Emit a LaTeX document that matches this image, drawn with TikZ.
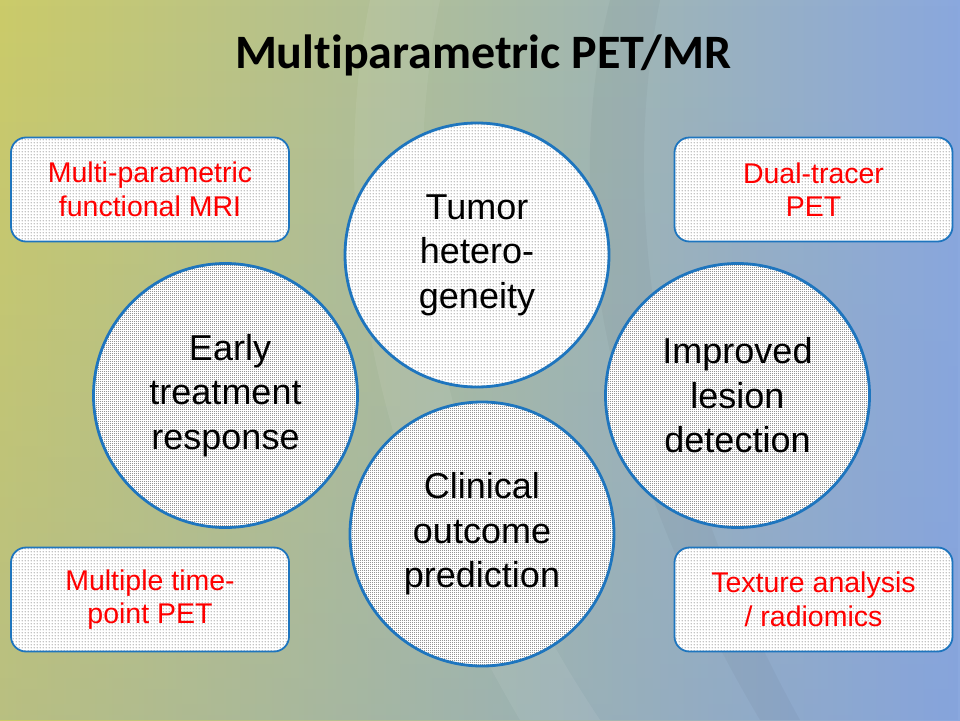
\documentclass[tikz,border=0pt]{standalone}
\usepackage{fontspec}
\setmainfont{Liberation Sans}
\newfontfamily\titlefont[Ligatures=NoCommon]{Carlito}
\usetikzlibrary{patterns.meta,fadings}

\definecolor{cblue}{RGB}{30,117,190}
\definecolor{bgyellow}{RGB}{203,203,105}
\definecolor{bgmid}{RGB}{170,188,162}
\definecolor{bgblue}{RGB}{138,168,222}
\definecolor{bgbottom}{RGB}{120,150,215}

\tikzdeclarepattern{
  name=densedots, type=uncolored,
  bounding box={(0pt,0pt) and (2pt,2pt)},
  tile size={(2pt,2pt)},
  code={\pgfpathcircle{\pgfpoint{1pt}{1pt}}{0.56pt}\pgfusepath{fill}}
}
\tikzdeclarepattern{
  name=lightdots, type=uncolored,
  bounding box={(0pt,0pt) and (3pt,3pt)},
  tile size={(3pt,3pt)},
  code={\pgfpathcircle{\pgfpoint{1.5pt}{1.5pt}}{0.6pt}\pgfusepath{fill}}
}

\tikzset{
  bigc/.style={circle, draw=cblue, line width=2.8pt, minimum size=264pt,
    inner sep=0pt, preaction={fill=white}, pattern color=black,
    align=center, font=\fontsize{36}{44.5}\selectfont},
  densec/.style={bigc, pattern=densedots},
  lightc/.style={bigc, pattern=lightdots},
  infobox/.style={rectangle, rounded corners=15pt, draw=cblue, line width=1.8pt,
    minimum width=278pt, minimum height=104pt, inner sep=0pt,
    preaction={fill=white}, pattern=lightdots, pattern color=black,
    text=red, align=center, font=\fontsize{28.5}{33.5}\selectfont},
  titlestyle/.style={font=\titlefont\bfseries\fontsize{48}{58}\selectfont, anchor=base}
}

\begin{document}
\begin{tikzpicture}[x=1pt,y=-1pt]
% background
\useasboundingbox (0,0) rectangle (960,720);
\shade[left color=bgyellow, right color=bgblue, middle color=bgmid] (0,0) rectangle (960,720);
\fill[bgbottom, path fading=north, opacity=0.22] (0,0) rectangle (960,720);
\fill[white, opacity=0.07] (370,0) .. controls (330,200) and (360,450) .. (520,720) -- (600,720) .. controls (420,450) and (400,200) .. (440,0) -- cycle;
\fill[black, opacity=0.03] (610,0) .. controls (560,200) and (600,450) .. (760,720) -- (800,720) .. controls (650,450) and (620,200) .. (660,0) -- cycle;

% title
\node[titlestyle] (title) at (483,68) {Multiparametric PET/MR};

% circles
\node[lightc] (tumor) at (477,255) {Tumor\\hetero-\\geneity};
\node[densec] (early) at (225.5,395.5) {\hspace*{9pt}Early\\treatment\\response};
\node[densec] (improved) at (737.5,395.5) {Improved\\lesion\\detection};
\node[densec] (clinical) at (482,534) {Clinical\\outcome\\prediction};

% boxes
\node[infobox] (mpmri) at (150,189.5) {Multi-parametric\\functional MRI};
\node[infobox] (dual) at (813.5,189.5) {Dual-tracer\\PET};
\node[infobox] (multi) at (150,599.5) {Multiple time-\\point PET};
\node[infobox] (texture) at (813.5,599.5) {Texture analysis\\/ radiomics};
\end{tikzpicture}
\end{document}
